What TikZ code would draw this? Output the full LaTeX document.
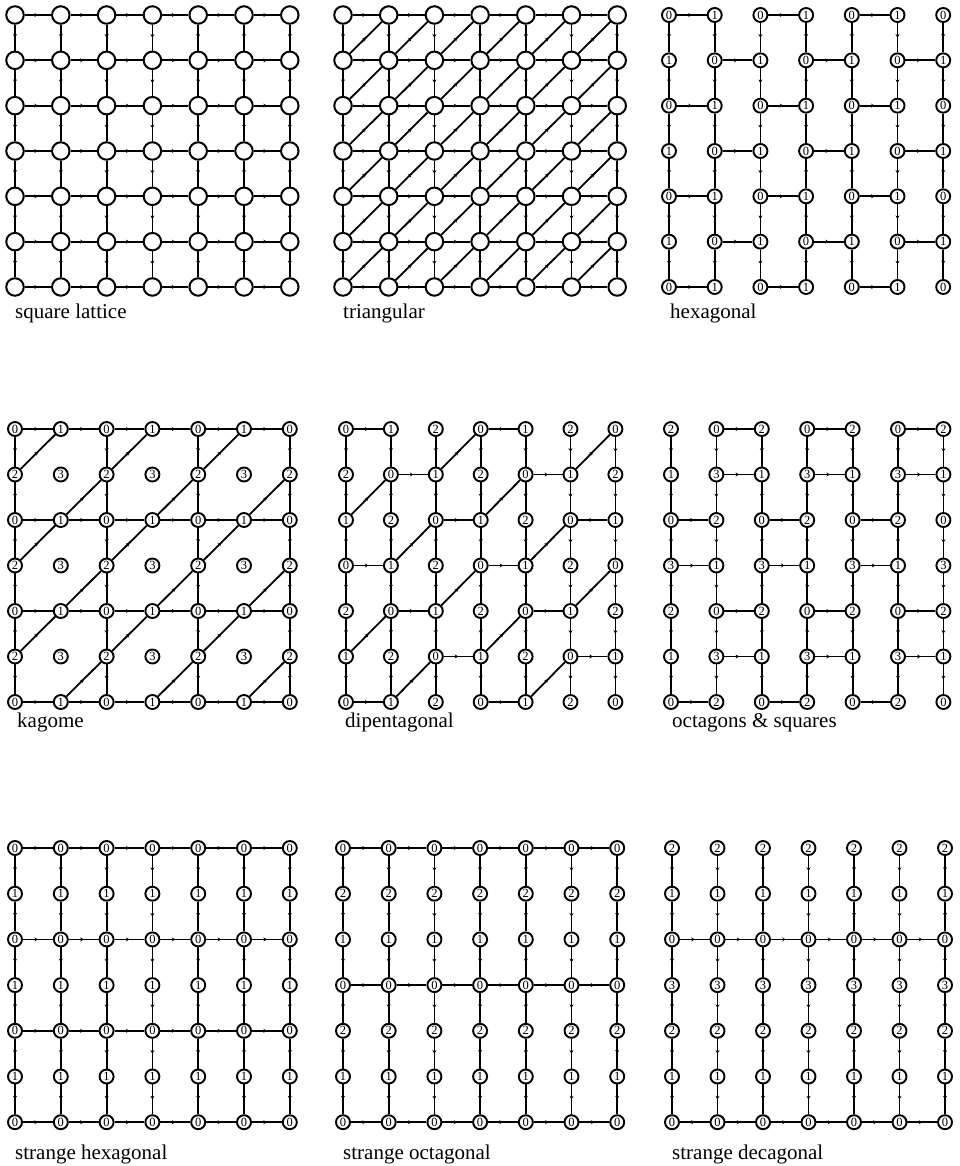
\documentclass[tikz,border=0pt]{standalone}
\usepackage{fontspec}
\setmainfont{Liberation Serif}
\usetikzlibrary{arrows.meta,decorations.markings}
\tikzset{
  bignode/.style={circle, draw, line width=2pt, minimum size=17.5pt, inner sep=0pt, fill=white},
  smallnode/.style={circle, draw, line width=1.9pt, minimum size=14pt, inner sep=0pt, fill=white, font=\fontsize{12.5}{12.5}\selectfont},
  edge/.style={line width=1.8pt, postaction={decorate}, decoration={markings, mark=at position 0.5 with {\arrow{Stealth[length=3.5pt,width=4pt]}}}},
  caption/.style={anchor=base west, font=\fontsize{21}{21}\selectfont, inner sep=0pt}
}
% name, x0, dx, y0, dy, label expression
\newcommand\mkgrid[6]{%
  \foreach \r in {0,...,6}{\foreach \c in {0,...,6}{%
    \pgfmathtruncatemacro\nlab{#6}%
    \node[smallnode] (#1-\r-\c) at ({#2+#3*\c},{#4+#5*\r}) {\nlab};}}}
\begin{document}
\begin{tikzpicture}[x=1pt,y=-1pt]
\useasboundingbox (0,0) rectangle (960,1166);
\fill[white] (0,0) rectangle (960,1166);

% ---------- square lattice ----------
\foreach \r in {0,...,6}{\foreach \c in {0,...,6}{
  \node[bignode] (sq-\r-\c) at ({15+45.8*\c},{15+45.33*\r}) {};}}
\foreach \r in {0,...,6}{\foreach \c [count=\n from 1] in {0,...,5}{
  \draw[edge] (sq-\r-\c) -- (sq-\r-\n);
  \draw[edge] (sq-\c-\r) -- (sq-\n-\r);}}
\node[caption] (cap1) at (15,318) {square lattice};

% ---------- triangular ----------
\foreach \r in {0,...,6}{\foreach \c in {0,...,6}{
  \node[bignode] (tr-\r-\c) at ({343+45.7*\c},{15+45.33*\r}) {};}}
\foreach \r in {0,...,6}{\foreach \c [count=\n from 1] in {0,...,5}{
  \draw[edge] (tr-\r-\c) -- (tr-\r-\n);
  \draw[edge] (tr-\c-\r) -- (tr-\n-\r);}}
\foreach \r [count=\p from 0] in {1,...,6}{\foreach \c [count=\n from 1] in {0,...,5}{
  \draw[edge] (tr-\r-\c) -- (tr-\p-\n);}}
\node[caption] (cap2) at (343,318) {triangular};

% ---------- hexagonal ----------
\mkgrid{hx}{669}{45.7}{15}{45.33}{mod(\r+\c,2)}
\foreach \r in {0,...,6}{\foreach \c [count=\n from 1] in {0,...,5}{
  \pgfmathtruncatemacro\t{mod(\r+\c,2)}
  \ifnum\t=0 \draw[edge] (hx-\r-\c) -- (hx-\r-\n);\fi
  \draw[edge] (hx-\c-\r) -- (hx-\n-\r);}}
\node[caption] (cap3) at (670,318) {hexagonal};

% ---------- kagome ----------
\mkgrid{kg}{15}{45.8}{429}{45.5}{mod(\c,2)+2*mod(\r,2)}
\foreach \r in {0,2,4,6}{\foreach \c [count=\n from 1] in {0,...,5}{
  \draw[edge] (kg-\r-\c) -- (kg-\r-\n);
  \draw[edge] (kg-\c-\r) -- (kg-\n-\r);}}
\foreach \r [count=\p from 0] in {1,...,6}{\foreach \c [count=\n from 1] in {0,...,5}{
  \pgfmathtruncatemacro\t{mod(\r+\c,2)}
  \ifnum\t=1 \draw[edge] (kg-\r-\c) -- (kg-\p-\n);\fi}}
\node[caption] (cap4) at (17,727) {kagome};

% ---------- dipentagonal ----------
\mkgrid{dp}{346}{44.9}{429}{45.5}{mod(\c-\r+9,3)}
\foreach \r in {0,...,6}{\foreach \c [count=\n from 1] in {0,...,5}{
  \pgfmathtruncatemacro\t{mod(\c-\r+9,3)}
  \ifnum\t=0 \draw[edge] (dp-\r-\c) -- (dp-\r-\n);\fi
  \draw[edge] (dp-\c-\r) -- (dp-\n-\r);}}
\foreach \r [count=\p from 0] in {1,...,6}{\foreach \c [count=\n from 1] in {0,...,5}{
  \pgfmathtruncatemacro\t{mod(\c-\r+9,3)}
  \ifnum\t=1 \draw[edge] (dp-\r-\c) -- (dp-\p-\n);\fi}}
\node[caption] (cap5) at (345,727) {dipentagonal};

% ---------- octagons & squares ----------
\mkgrid{os}{671}{45.4}{429}{45.5}{mod(\r,2)+2*mod(\c+int((mod(\r,4)+1)/2)+1,2)}
\foreach \r in {0,...,6}{\foreach \c [count=\n from 1] in {0,...,5}{
  \pgfmathtruncatemacro\t{mod(mod(\r,2)+2*mod(\c+int((mod(\r,4)+1)/2)+1,2),3)}
  \ifnum\t=0 \draw[edge] (os-\r-\c) -- (os-\r-\n);\fi
  \draw[edge] (os-\c-\r) -- (os-\n-\r);}}
\node[caption] (cap6) at (672,727) {octagons \& squares};

% ---------- strange hexagonal ----------
\mkgrid{sh}{15}{45.8}{848}{45.7}{mod(\r,2)}
\foreach \r in {0,2,4,6}{\foreach \c [count=\n from 1] in {0,...,5}{
  \draw[edge] (sh-\r-\c) -- (sh-\r-\n);}}
\foreach \r in {0,...,6}{\foreach \c [count=\n from 1] in {0,...,5}{
  \draw[edge] (sh-\c-\r) -- (sh-\n-\r);}}
\node[caption] (cap7) at (15,1159) {strange hexagonal};

% ---------- strange octagonal ----------
\mkgrid{so}{343}{45.7}{848}{45.7}{mod(9-\r,3)}
\foreach \r in {0,3,6}{\foreach \c [count=\n from 1] in {0,...,5}{
  \draw[edge] (so-\r-\c) -- (so-\r-\n);}}
\foreach \r in {0,...,6}{\foreach \c [count=\n from 1] in {0,...,5}{
  \draw[edge] (so-\c-\r) -- (so-\n-\r);}}
\node[caption] (cap8) at (343,1159) {strange octagonal};

% ---------- strange decagonal ----------
\mkgrid{sd}{672}{45.5}{848}{45.7}{mod(6-\r,4)}
\foreach \r in {2,6}{\foreach \c [count=\n from 1] in {0,...,5}{
  \draw[edge] (sd-\r-\c) -- (sd-\r-\n);}}
\foreach \r in {0,...,6}{\foreach \c [count=\n from 1] in {0,...,5}{
  \draw[edge] (sd-\c-\r) -- (sd-\n-\r);}}
\node[caption] (cap9) at (672,1159) {strange decagonal};
\end{tikzpicture}
\end{document}
